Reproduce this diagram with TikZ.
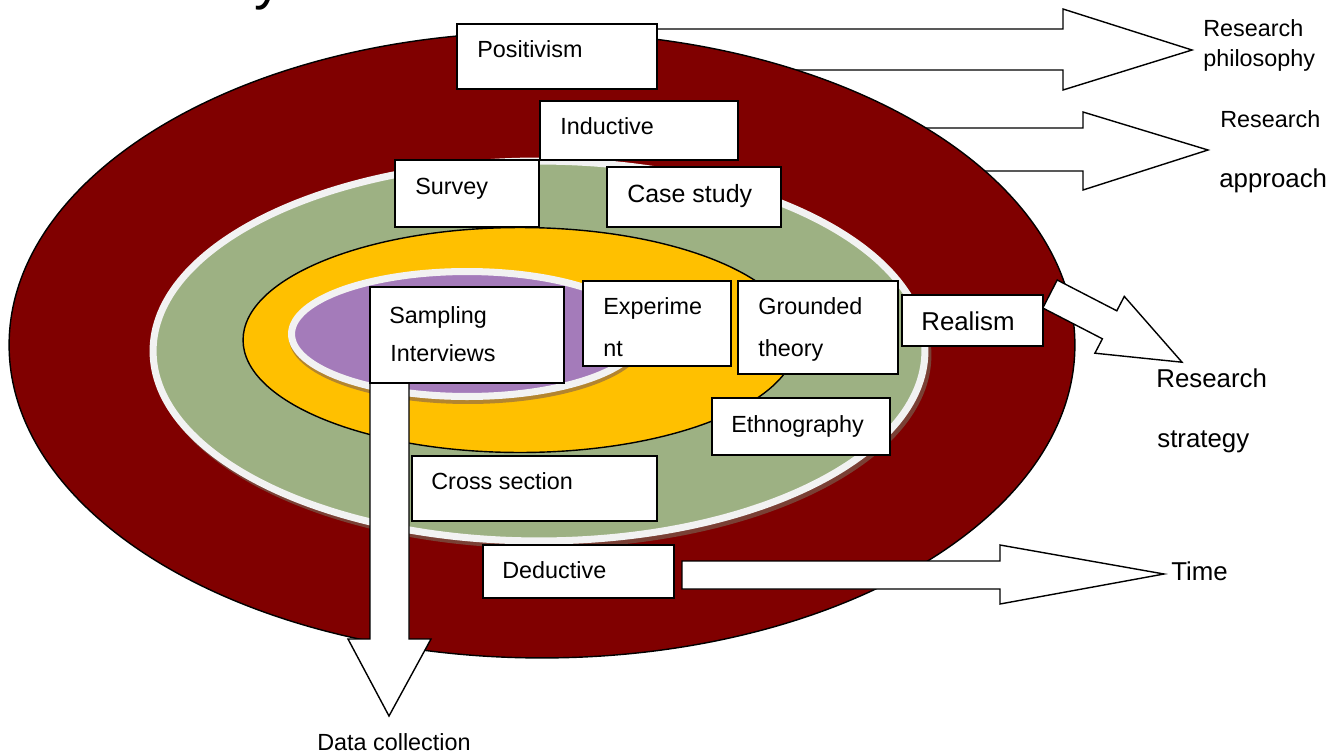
\documentclass[tikz,border=0pt]{standalone}
\usepackage{fontspec}
\setmainfont{Liberation Sans}
\usetikzlibrary{fit}

\definecolor{onionred}{HTML}{800000}
\definecolor{sage}{HTML}{9DB183}
\definecolor{amber}{HTML}{FFC000}
\definecolor{lilac}{HTML}{A47BBA}
\definecolor{rim}{HTML}{F2F2F2}
\definecolor{sageshadow}{HTML}{7A4035}
\definecolor{lilacshadow}{HTML}{B3852F}

\tikzset{
  wbox/.style={draw=black, line width=1pt, fill=white, inner sep=0pt, outer sep=0pt},
  lbl/.style={anchor=base west, inner sep=0pt, font=\fontsize{13.3}{16}\selectfont},
  biglbl/.style={anchor=base west, inner sep=0pt, font=\fontsize{14.7}{18}\selectfont},
  blockarrow/.style={draw=black, line width=0.8pt, fill=white, line join=miter},
  ringline/.style={draw=black, line width=0.8pt},
}

\begin{document}
\begin{tikzpicture}[x=0.02cm, y=-0.02cm]
  \useasboundingbox (0,0) rectangle (1339,754);
  \fill[white] (0,0) rectangle (1339,754);

  % remnant of the title line above
  \node[anchor=base west, inner sep=0pt, font=\fontsize{32}{36}\selectfont] (titletail) at (254,-1.5) {y};

  % block arrows that run behind the onion
  \path[blockarrow] (600,29) -- (1063,29) -- (1063,9) -- (1192,50) -- (1063,90) -- (1063,70) -- (600,70) -- cycle;
  \path[blockarrow] (700,128) -- (1083,128) -- (1083,112) -- (1208,150) -- (1083,190) -- (1083,171) -- (700,171) -- cycle;

  % the onion layers
  \path[ringline, fill=onionred] (542,345) ellipse [x radius=10.66cm, y radius=6.26cm];
  \fill[sageshadow] (542,355) ellipse [x radius=7.79cm, y radius=3.87cm];
  \path[draw=rim, line width=4pt, fill=sage] (539,351) ellipse [x radius=7.72cm, y radius=3.8cm];
  \path[ringline, fill=amber] (520,340) ellipse [x radius=5.54cm, y radius=2.25cm];
  \fill[lilacshadow] (468,338) ellipse [x radius=3.58cm, y radius=1.32cm];
  \path[draw=rim, line width=4pt, fill=lilac] (467,334) ellipse [x radius=3.51cm, y radius=1.25cm];

  % block arrows drawn over the onion
  \path[blockarrow] (370,383) -- (409,383) -- (409,639) -- (431,639) -- (389,716) -- (348,639) -- (370,639) -- cycle;
  \path[blockarrow] (682,561) -- (1000,561) -- (1000,545) -- (1164,574) -- (1000,604) -- (1000,589) -- (682,589) -- cycle;
  \path[blockarrow] (1042.8,308.0) -- (1057.2,280.0) -- (1116.8,310.8) -- (1124.3,296.4) -- (1182,362.2)
        -- (1094.9,353.2) -- (1102.4,338.8) -- cycle;

  % labelled boxes
  \node[wbox, fit={(457,24) (657,89)}] (positivism) {};
  \node[wbox, fit={(540,101) (738,160)}] (inductive) {};
  \node[wbox, fit={(395,160) (539,227)}] (survey) {};
  \node[wbox, fit={(607,167) (781,227)}] (casestudy) {};
  \node[wbox, fit={(370,287) (564,383)}] (sampling) {};
  \node[wbox, fit={(583,281) (731,366)}] (experiment) {};
  \node[wbox, fit={(738,281) (898,374)}] (grounded) {};
  \node[wbox, fit={(902,295) (1043,346)}] (realism) {};
  \node[wbox, fit={(712,398) (890,455)}] (ethnography) {};
  \node[wbox, fit={(412,456) (657,521)}] (crosssection) {};
  \node[wbox, fit={(483,545) (674,598)}] (deductive) {};

  % box texts
  \node[lbl] (positivismtext) at (477,57) {Positivism};
  \node[lbl] (inductivetext) at (560,134) {Inductive};
  \node[lbl] (surveytext) at (415,194) {Survey};
  \node[lbl, font=\fontsize{14.2}{17}\selectfont] (casestudytext) at (627,202) {Case study};
  \node[lbl] (samplingtext) at (389,323) {Sampling};
  \node[lbl] (interviewstext) at (390,361) {Interviews};
  \node[lbl] (experimenttext) at (603,314) {Experime};
  \node[lbl] (experimenttail) at (603,356) {nt};
  \node[lbl] (groundedtext) at (758,314) {Grounded};
  \node[lbl] (theorytext) at (758,356) {theory};
  \node[biglbl] (realismtext) at (921,330) {Realism};
  \node[lbl] (ethnographytext) at (731,432) {Ethnography};
  \node[lbl] (crosssectiontext) at (431,489) {Cross section};
  \node[lbl] (deductivetext) at (502,578) {Deductive};

  % layer names beside the arrows
  \node[lbl] (philosophyA) at (1203,36) {Research};
  \node[lbl] (philosophyB) at (1203,66) {philosophy};
  \node[lbl] (approachA) at (1220,127) {Research};
  \node[biglbl] (approachB) at (1219,187) {approach};
  \node[biglbl] (strategyA) at (1156,387) {Research};
  \node[biglbl] (strategyB) at (1157,447) {strategy};
  \node[biglbl] (timetext) at (1171,580) {Time};
  \node[lbl] (datatext) at (317,750) {Data collection};
\end{tikzpicture}
\end{document}
